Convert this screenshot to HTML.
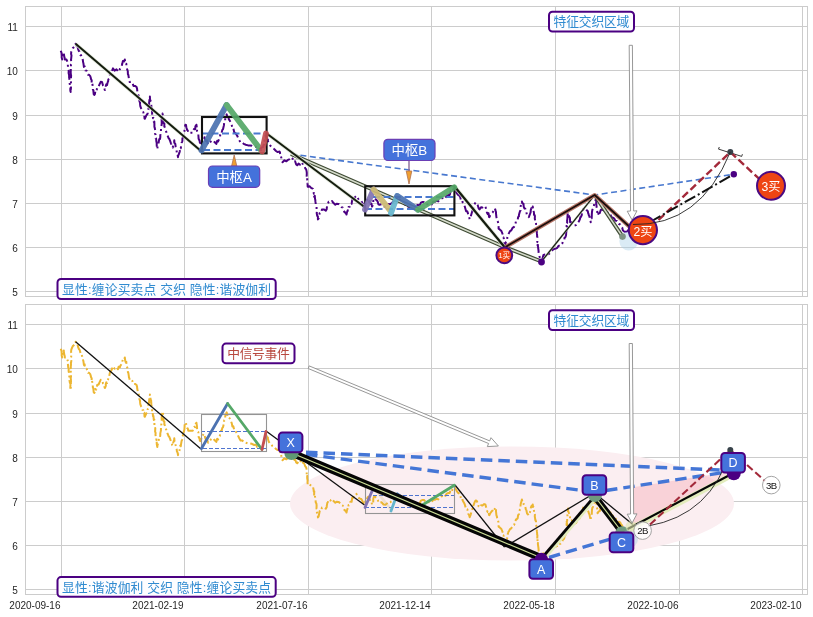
<!DOCTYPE html>
<html><head><meta charset="utf-8"><title>chart</title>
<style>
html,body{margin:0;padding:0;background:#fff;}
svg{display:block}
text{font-family:"Liberation Sans","Noto Sans CJK SC",sans-serif;}
.tk{font-size:10px;fill:#262626}
.lb{font-size:12.5px}
</style></head><body>
<svg width="813" height="617" viewBox="0 0 813 617">
<rect width="813" height="617" fill="#fff"/>

<g stroke="#cccccc" stroke-width="1" fill="none" shape-rendering="crispEdges">
<line x1="61.5" y1="6.5" x2="61.5" y2="296.5"/>
<line x1="184.5" y1="6.5" x2="184.5" y2="296.5"/>
<line x1="308.5" y1="6.5" x2="308.5" y2="296.5"/>
<line x1="431.5" y1="6.5" x2="431.5" y2="296.5"/>
<line x1="555.5" y1="6.5" x2="555.5" y2="296.5"/>
<line x1="679.5" y1="6.5" x2="679.5" y2="296.5"/>
<line x1="802.5" y1="6.5" x2="802.5" y2="296.5"/>
<line x1="25.5" y1="291.5" x2="807.5" y2="291.5"/>
<line x1="25.5" y1="247.5" x2="807.5" y2="247.5"/>
<line x1="25.5" y1="203.5" x2="807.5" y2="203.5"/>
<line x1="25.5" y1="159.5" x2="807.5" y2="159.5"/>
<line x1="25.5" y1="115.5" x2="807.5" y2="115.5"/>
<line x1="25.5" y1="70.5" x2="807.5" y2="70.5"/>
<line x1="25.5" y1="26.5" x2="807.5" y2="26.5"/>
<rect x="25.5" y="6.5" width="782" height="290.0" stroke="#cccccc"/>
</g>
<text class="tk" x="17.8" y="295.8" text-anchor="end">5</text>
<text class="tk" x="17.8" y="251.8" text-anchor="end">6</text>
<text class="tk" x="17.8" y="207.8" text-anchor="end">7</text>
<text class="tk" x="17.8" y="163.8" text-anchor="end">8</text>
<text class="tk" x="17.8" y="119.8" text-anchor="end">9</text>
<text class="tk" x="17.8" y="74.8" text-anchor="end">10</text>
<text class="tk" x="17.8" y="30.8" text-anchor="end">11</text>
<g stroke="#cccccc" stroke-width="1" fill="none" shape-rendering="crispEdges">
<line x1="61.5" y1="304.5" x2="61.5" y2="594.5"/>
<line x1="184.5" y1="304.5" x2="184.5" y2="594.5"/>
<line x1="308.5" y1="304.5" x2="308.5" y2="594.5"/>
<line x1="431.5" y1="304.5" x2="431.5" y2="594.5"/>
<line x1="555.5" y1="304.5" x2="555.5" y2="594.5"/>
<line x1="679.5" y1="304.5" x2="679.5" y2="594.5"/>
<line x1="802.5" y1="304.5" x2="802.5" y2="594.5"/>
<line x1="25.5" y1="589.5" x2="807.5" y2="589.5"/>
<line x1="25.5" y1="545.5" x2="807.5" y2="545.5"/>
<line x1="25.5" y1="501.5" x2="807.5" y2="501.5"/>
<line x1="25.5" y1="457.5" x2="807.5" y2="457.5"/>
<line x1="25.5" y1="413.5" x2="807.5" y2="413.5"/>
<line x1="25.5" y1="368.5" x2="807.5" y2="368.5"/>
<line x1="25.5" y1="324.5" x2="807.5" y2="324.5"/>
<rect x="25.5" y="304.5" width="782" height="290.0" stroke="#cccccc"/>
</g>
<text class="tk" x="17.8" y="593.8" text-anchor="end">5</text>
<text class="tk" x="17.8" y="549.8" text-anchor="end">6</text>
<text class="tk" x="17.8" y="505.8" text-anchor="end">7</text>
<text class="tk" x="17.8" y="461.8" text-anchor="end">8</text>
<text class="tk" x="17.8" y="417.8" text-anchor="end">9</text>
<text class="tk" x="17.8" y="372.8" text-anchor="end">10</text>
<text class="tk" x="17.8" y="328.8" text-anchor="end">11</text>
<text class="tk" x="60.5" y="609" text-anchor="end">2020-09-16</text>
<text class="tk" x="183.5" y="609" text-anchor="end">2021-02-19</text>
<text class="tk" x="307.5" y="609" text-anchor="end">2021-07-16</text>
<text class="tk" x="430.5" y="609" text-anchor="end">2021-12-14</text>
<text class="tk" x="554.5" y="609" text-anchor="end">2022-05-18</text>
<text class="tk" x="678.5" y="609" text-anchor="end">2022-10-06</text>
<text class="tk" x="801.5" y="609" text-anchor="end">2023-02-10</text>
<g id="top">
<polyline points="60.8,50.7 61.0,51.4 61.5,52.9 61.7,55.6 61.7,57.8 62.2,59.5 62.3,57.6 62.7,54.8 63.4,55.3 63.8,52.6 63.8,53.5 64.4,57.4 64.6,57.5 64.8,59.5 66.5,59.6 67.7,62.5 68.1,63.5 67.8,64.6 68.1,68.4 68.2,69.3 68.6,70.3 68.7,71.0 68.6,73.1 69.1,75.4 69.1,77.5 69.3,78.3 69.7,81.1 69.5,82.4 69.9,84.9 70.2,84.8 70.5,85.9 70.3,89.5 70.3,90.3 70.7,92.0 70.4,90.9 70.9,89.0 71.0,86.6 70.9,85.8 70.9,83.8 71.0,83.7 70.9,81.2 70.6,79.7 71.0,79.0 71.1,75.2 70.9,74.8 70.7,72.5 70.8,69.9 70.8,70.2 70.8,67.1 71.0,67.3 70.9,64.4 71.2,64.1 71.3,62.5 71.0,59.5 71.1,59.3 71.5,55.5 71.1,54.1 71.1,53.3 71.3,51.7 72.2,49.4 72.7,48.3 73.8,47.2 75.0,46.0 75.6,43.8 76.4,45.7 77.3,45.6 78.2,49.4 78.9,51.0 79.5,51.7 80.0,53.0 80.5,55.2 81.0,55.1 81.7,56.9 82.5,59.5 82.8,59.7 83.0,61.6 83.5,63.8 83.9,66.9 84.6,66.2 84.8,68.4 85.4,70.4 86.6,70.7 88.1,74.8 89.1,74.8 90.4,76.3 90.5,76.8 91.0,79.0 91.7,80.4 91.5,84.5 92.2,83.7 92.6,85.1 92.9,89.6 93.5,90.5 93.4,91.2 93.7,94.1 94.3,95.0 94.9,94.2 95.4,91.0 96.2,91.7 96.8,89.5 97.2,87.0 98.6,86.5 99.4,84.6 100.7,81.8 102.0,82.0 102.3,82.9 103.1,85.8 104.1,86.6 104.7,89.9 105.0,90.0 105.8,88.0 105.8,86.0 106.3,84.4 107.1,84.9 107.7,82.1 108.1,81.5 108.3,79.5 109.2,78.3 109.7,75.8 110.0,74.3 110.6,73.7 111.4,72.3 112.5,69.6 113.0,68.4 114.6,70.7 116.5,69.3 118.0,71.3 118.6,68.8 119.9,69.3 120.3,67.9 121.7,65.9 122.2,64.1 122.9,61.0 124.2,61.4 124.8,59.5 125.2,62.5 125.6,64.0 126.3,63.7 126.4,65.6 126.8,68.2 127.2,69.4 127.8,71.3 127.9,74.3 128.3,74.7 128.8,77.9 129.0,79.7 129.4,80.3 129.7,82.0 131.1,81.6 132.4,83.0 133.5,85.9 135.0,85.9 136.6,87.0 137.1,88.9 137.2,90.5 137.7,93.0 137.8,94.0 138.3,94.8 139.0,97.2 139.2,98.9 139.5,101.5 140.0,102.4 140.1,104.4 140.3,106.2 141.1,108.3 141.8,109.2 142.5,111.9 143.3,112.1 143.8,114.9 144.3,114.7 144.5,118.5 144.8,118.8 146.0,116.0 146.5,115.2 147.7,113.6 147.7,111.1 147.9,110.7 148.5,109.7 148.4,107.4 148.9,104.0 149.2,104.8 149.1,103.1 149.4,100.0 150.0,99.3 149.9,96.6 150.0,98.2 150.5,99.6 150.5,101.3 151.1,102.2 151.3,105.2 151.3,106.7 151.9,109.0 152.1,110.7 152.1,113.8 152.8,115.4 152.7,115.0 153.0,118.2 153.4,117.9 153.8,121.9 154.3,121.6 154.4,124.0 154.4,126.9 154.8,127.9 154.7,127.7 155.3,130.4 155.1,133.6 155.6,134.9 155.5,136.7 155.7,138.4 156.1,138.5 156.4,141.9 156.4,141.2 156.7,143.2 156.7,144.7 156.8,146.4 157.3,149.0 157.6,146.7 158.3,145.0 158.6,143.0 158.9,140.8 159.3,139.1 160.0,139.0 160.3,137.2 160.3,135.4 160.9,132.6 161.0,131.9 160.9,131.5 161.0,128.8 161.4,128.5 161.3,126.4 161.7,124.1 161.7,121.6 161.6,119.2 161.8,119.4 162.0,116.0 162.1,116.3 162.5,113.6 163.0,115.8 162.9,116.2 163.2,118.5 163.4,120.1 163.7,123.3 164.4,123.7 164.3,126.6 164.7,126.9 165.2,128.2 165.6,130.1 166.4,132.2 166.8,134.0 167.6,135.8 168.0,136.6 168.7,138.4 169.3,138.8 170.1,140.9 170.9,143.3 171.7,145.1 172.3,147.3 172.8,147.6 173.1,145.2 173.8,142.8 174.1,142.5 174.3,140.2 174.4,142.9 175.3,144.0 175.6,146.2 175.6,147.1 176.2,149.7 176.7,151.4 176.9,153.3 177.4,154.4 177.5,154.1 178.0,157.2 178.2,155.2 178.6,154.9 179.4,152.7 179.8,151.2 180.2,147.6 180.8,148.2 181.1,145.9 181.6,142.9 182.1,141.8 182.4,140.9 182.4,138.6 183.1,136.8 183.4,137.5 183.6,134.1 183.9,133.4 184.4,131.5 184.6,128.3 184.6,127.2 185.2,125.7 185.4,124.7 186.0,124.9 186.3,127.2 187.2,130.1 187.8,130.6 188.3,132.8 190.5,132.7 192.7,132.8 193.4,130.0 194.4,128.7 195.2,129.2 195.4,126.2 196.4,124.7 196.9,127.9 196.9,127.5 197.1,131.3 197.3,131.9 197.6,133.5 198.3,134.1 198.5,137.0 198.6,138.7 199.6,140.8 199.9,142.8 200.8,143.1 201.5,139.8 202.0,139.4 203.0,137.0 203.8,135.8 204.3,136.8 205.2,139.8 205.7,141.0 206.9,140.5 207.7,143.8 208.2,144.6 209.9,142.5 211.1,141.3 212.7,140.2 214.2,141.7 215.0,142.5 216.3,143.9 217.2,140.8 218.1,141.4 219.3,138.7 219.8,138.2 220.3,134.5 221.1,132.5 221.6,133.0 222.3,129.9 223.0,129.3 223.3,128.0 223.9,125.4 224.2,122.3 224.6,122.0 225.1,121.0 225.3,117.7 226.1,116.4 226.2,115.5 226.7,114.4 227.3,116.8 228.5,117.1 228.9,119.5 229.7,120.4 230.4,122.1 230.9,122.9 231.8,125.4 232.4,128.5 233.3,128.3 234.3,132.4 234.8,132.8 235.6,133.2 236.4,134.5 237.3,136.0 238.2,138.0 239.2,140.2 240.7,142.6 242.3,142.4 243.7,143.9 245.8,144.7 248.1,145.4 250.1,145.4 251.9,145.8 254.2,147.0 255.9,146.6 257.1,148.9 258.8,148.4 260.0,150.0 261.4,147.7 263.0,147.0 263.4,145.1 264.1,144.6 264.5,140.4 264.4,140.8 265.4,138.3 265.6,135.2 266.0,135.0 266.5,138.0 267.3,139.5 267.9,139.4 267.9,140.8 268.7,143.6 269.9,145.3 271.3,146.6 272.3,147.9 273.4,148.5 274.6,149.5 276.0,151.0 277.7,152.1 279.5,151.5 280.0,152.5 280.1,153.8 280.9,156.7 281.0,156.4 281.7,159.5 282.0,159.9 282.5,162.3 284.5,160.3 286.4,161.3 287.9,159.9 289.9,159.1 291.3,157.4 292.5,158.6 293.1,159.3 294.5,162.0 295.1,161.2 296.2,164.5 297.2,165.3 298.5,163.6 300.0,164.6 301.2,162.3 302.0,162.3 303.1,164.8 304.2,165.5 305.3,168.5 306.1,169.2 306.3,169.9 306.7,171.9 306.8,173.2 306.7,176.4 306.9,178.6 307.2,177.9 307.2,180.2 307.7,183.4 307.5,183.4 307.7,186.7 308.1,186.9 309.5,186.2 311.1,187.9 313.0,188.9 313.6,191.7 313.8,193.7 314.3,193.3 314.1,196.7 314.8,195.7 315.0,198.7 315.3,199.9 315.4,201.4 315.5,202.0 315.8,204.6 316.4,205.5 316.6,207.4 316.5,210.8 317.0,211.2 316.7,213.0 317.2,215.9 317.3,215.8 317.9,216.4 317.9,219.4 318.5,218.7 319.4,214.8 319.6,213.2 320.8,212.1 321.4,212.4 321.9,209.6 323.8,209.4 325.8,210.6 326.7,209.2 326.8,207.7 327.4,204.6 327.8,204.2 328.7,201.7 330.5,202.5 332.1,201.1 333.3,202.8 335.3,204.7 336.6,203.7 338.5,203.9 340.6,205.6 341.5,207.1 342.8,207.6 343.7,210.8 344.7,212.4 345.6,212.5 346.5,214.5 346.9,212.5 347.8,210.2 348.0,210.6 348.6,207.0 349.0,206.9 349.7,206.7 350.4,203.7 351.6,203.8 352.2,199.8 353.1,199.7 354.5,198.3 355.2,196.9 356.3,195.8 357.7,198.0 359.0,200.1 360.2,200.7 361.3,201.0 362.4,203.0 363.2,204.7 364.2,206.6 365.1,204.1 365.6,202.7 366.3,203.0 367.4,199.8 368.1,198.7 368.8,201.8 369.7,201.1 370.6,203.9 371.5,203.8 372.0,206.6 372.5,205.8 373.2,204.4 373.3,200.8 373.9,198.8 374.6,198.0 375.9,199.6 376.8,200.3 377.8,201.9 378.4,204.3 379.5,204.8 381.7,204.3 383.5,206.5 385.4,206.8 386.9,205.5 388.5,204.0 390.2,204.2 392.0,203.0 393.6,201.1 394.7,200.5 396.6,199.1 398.0,199.0 399.4,199.4 401.2,201.6 402.2,201.6 404.0,204.0 405.4,204.9 407.1,204.3 408.3,206.8 410.0,207.0 411.5,205.9 413.1,207.6 414.7,206.0 416.3,205.1 418.0,205.0 419.7,205.7 420.9,202.6 422.6,201.9 424.0,202.0 425.7,203.9 428.0,204.3 430.0,204.0 431.6,204.4 433.3,201.4 434.7,201.8 436.6,200.9 438.2,201.4 439.3,199.8 440.9,198.7 442.5,198.0 443.8,196.6 445.5,197.8 446.7,195.7 448.4,195.0 449.8,194.9 450.7,190.9 452.3,191.9 453.3,189.0 454.5,189.2 456.1,191.7 457.3,193.9 458.3,195.0 459.4,195.5 460.3,197.3 461.0,200.7 462.2,200.3 462.7,202.5 463.8,204.4 464.5,205.7 464.9,206.9 465.9,210.5 466.1,211.2 467.2,211.2 467.9,213.1 468.4,216.1 469.1,217.0 469.7,219.2 470.2,217.9 470.7,216.6 471.3,214.5 471.6,213.5 472.4,210.8 473.1,210.9 473.4,207.6 474.0,205.9 474.3,205.3 474.8,203.8 475.6,202.5 476.6,202.8 477.6,204.7 478.7,208.5 479.5,209.4 481.0,207.3 482.5,207.5 484.2,206.1 485.4,206.4 486.2,209.4 486.7,210.4 486.9,212.5 487.7,213.9 488.5,213.1 489.0,216.9 489.4,217.2 490.1,215.5 491.5,213.6 492.6,212.6 493.5,210.9 494.3,212.0 495.3,209.4 495.4,210.3 496.0,212.1 496.0,213.3 496.4,217.2 497.0,218.8 497.1,220.1 497.3,220.9 498.0,222.0 498.4,224.3 498.6,226.9 498.6,228.8 499.2,229.0 500.3,230.0 501.4,231.0 502.2,233.0 502.9,235.0 502.8,237.2 503.3,237.2 503.8,238.5 504.2,240.9 504.5,244.8 504.8,245.6 505.1,246.8 505.5,243.6 505.8,242.3 506.6,241.4 507.1,241.1 507.3,237.4 508.1,235.0 508.2,234.3 509.0,233.0 510.0,231.1 511.3,230.3 512.8,227.6 514.0,227.0 514.8,225.4 515.2,225.3 515.9,221.4 516.6,221.3 517.7,220.2 518.1,217.1 518.9,216.3 518.9,215.1 519.6,212.6 520.0,211.2 520.5,210.4 520.4,209.3 520.6,206.5 521.2,204.0 521.3,204.0 521.9,201.5 522.3,203.3 523.5,203.7 523.7,206.7 524.5,208.5 525.3,208.7 525.8,211.3 526.4,212.2 527.0,215.4 528.1,216.4 528.7,217.2 529.0,216.7 530.0,214.0 530.6,212.4 530.8,209.8 531.4,208.1 532.0,208.7 532.7,206.4 533.1,209.1 533.4,208.9 533.6,211.1 534.0,212.9 534.0,214.9 534.7,215.2 534.9,216.2 534.8,218.5 535.4,222.3 535.6,222.0 536.0,223.6 535.9,227.0 536.4,228.0 536.6,229.0 536.8,232.1 536.9,233.4 537.1,235.2 537.1,236.4 537.4,236.9 537.3,239.5 537.3,242.1 537.5,241.1 537.6,245.5 537.9,244.9 537.9,246.2 538.4,249.7 538.6,251.7 538.6,252.7 538.9,254.7 539.7,257.2 540.5,259.2 540.7,260.8 541.5,261.5 542.5,261.1 542.8,257.2 543.5,254.9 544.5,254.6 546.7,254.9 548.5,254.3 550.4,252.7 551.9,251.1 552.9,249.5 554.7,248.9 555.8,248.6 557.3,247.8 558.6,245.7 560.4,245.8 562.2,243.8 562.8,241.8 563.8,240.9 564.4,239.8 564.5,237.7 565.4,237.3 566.1,235.0 566.1,234.0 566.4,230.9 566.7,228.9 566.8,227.5 566.5,225.9 567.1,226.6 566.7,223.5 567.2,222.8 567.1,220.2 567.3,219.6 567.4,218.3 567.6,214.5 568.0,213.7 567.7,212.4 568.1,210.4 568.1,212.9 568.8,214.6 569.0,215.0 569.2,216.8 569.8,217.6 570.0,219.1 570.1,222.2 571.4,222.2 573.3,223.7 574.5,225.5 576.0,225.1 576.8,223.5 578.0,222.9 579.1,221.1 579.9,219.2 580.4,217.1 580.8,217.1 581.7,215.3 582.0,212.8 582.9,211.7 583.1,209.8 583.9,208.4 585.4,208.6 586.3,209.7 587.8,211.3 588.3,213.9 588.4,213.4 588.9,215.5 589.5,216.5 589.8,218.2 590.6,221.3 590.7,222.2 590.7,222.0 591.0,218.7 591.7,218.3 591.8,215.6 591.8,214.6 592.0,211.7 592.4,209.6 592.7,209.4 593.1,208.6 593.8,206.1 594.3,204.3 594.5,203.1 595.1,201.9 595.7,199.5 596.2,201.0 596.2,203.8 596.3,204.0 596.7,207.7 596.9,208.9 597.2,210.6 597.3,211.7 597.3,213.9 597.6,215.3 598.4,213.6 599.8,213.0 600.7,210.1 601.6,209.4 603.0,210.0 604.6,210.6 606.1,212.9 607.5,212.3 608.7,214.0 610.4,214.5 611.6,217.5 612.7,217.5 614.3,218.6 615.3,220.6 616.9,221.0 617.6,222.4 619.0,224.0 620.2,224.5 621.1,226.4 622.2,227.5 622.8,230.2 623.5,230.9 624.6,231.8 626.0,231.7 627.3,231.4 629.0,229.0" fill="none" stroke="#4b0082" stroke-width="2" stroke-dasharray="10 3.2 2 3.2" stroke-linejoin="round"/>
<polyline points="291,154 594.7,195 733.8,174.3" fill="none" stroke="#4878cf" stroke-width="1.6" stroke-dasharray="6 3.5"/>
<polyline points="291,154 504.5,247 541.5,261.5" fill="none" stroke="#3f4b34" stroke-width="4"/>
<polyline points="291,154 504.5,247 541.5,261.5" fill="none" stroke="#d6dccc" stroke-width="1.5"/>
<polyline points="594.7,195 622.5,236.6" fill="none" stroke="#3f4b34" stroke-width="4"/>
<polyline points="594.7,195 622.5,236.6" fill="none" stroke="#d6dccc" stroke-width="1.5"/>
<polyline points="75.6,43.8 201,151" fill="none" stroke="#dfe6d6" stroke-width="3.6" opacity="0.8"/>
<polyline points="75.6,43.8 201,151" fill="none" stroke="#141c0e" stroke-width="2.0"/>
<polyline points="266,133 364.5,207" fill="none" stroke="#dfe6d6" stroke-width="3.6" opacity="0.8"/>
<polyline points="266,133 364.5,207" fill="none" stroke="#141c0e" stroke-width="2.0"/>
<polyline points="455,187 504.5,247" fill="none" stroke="#dfe6d6" stroke-width="3.8000000000000003" opacity="0.8"/>
<polyline points="455,187 504.5,247" fill="none" stroke="#141c0e" stroke-width="2.2"/>
<line x1="541.5" y1="261.5" x2="594.7" y2="195" stroke="#9fb090" stroke-width="2"/>
<line x1="541.5" y1="261.5" x2="594.7" y2="195" stroke="#111" stroke-width="1.1"/>
<polyline points="505.5,247 594.7,195 632,229" fill="none" stroke="#b67668" stroke-width="4.1" stroke-linejoin="round"/>
<polyline points="505.5,247 594.7,195 632,229" fill="none" stroke="#1a0e0c" stroke-width="1.8" stroke-linejoin="round"/>
<line x1="201" y1="133.5" x2="262" y2="133.5" stroke="#4878cf" stroke-width="1.8" stroke-dasharray="7 3.5"/>
<line x1="203" y1="150" x2="262" y2="150" stroke="#4878cf" stroke-width="1.8" stroke-dasharray="7 3.5"/>
<rect x="202" y="117" width="64.6" height="36.4" fill="none" stroke="#111" stroke-width="2.1"/>
<g fill="none" stroke-width="5.8" stroke-linecap="round" opacity="0.92">
<line x1="201.5" y1="150.5" x2="226.6" y2="105" stroke="#4c72b0"/>
<line x1="226.6" y1="105" x2="262" y2="151.5" stroke="#55a868"/>
<line x1="262" y1="151.5" x2="266" y2="133.5" stroke="#c44e52"/>
</g>
<line x1="373" y1="197" x2="455" y2="197" stroke="#4878cf" stroke-width="1.8" stroke-dasharray="7 3.5"/>
<line x1="365" y1="209" x2="455" y2="209" stroke="#4878cf" stroke-width="1.8" stroke-dasharray="7 3.5"/>
<rect x="365.2" y="186.2" width="89.2" height="29.2" fill="none" stroke="#111" stroke-width="2.1"/>
<g fill="none" stroke-width="5.8" stroke-linecap="round" opacity="0.92">
<line x1="365" y1="209.5" x2="373.6" y2="189.5" stroke="#8172b2"/>
<line x1="373.6" y1="189.5" x2="390.5" y2="211" stroke="#ccb974"/>
<line x1="391" y1="213" x2="397.2" y2="196" stroke="#64b5cd"/>
<line x1="397.2" y1="196" x2="418" y2="209.7" stroke="#4c72b0"/>
<line x1="418" y1="209.7" x2="454.3" y2="187.3" stroke="#55a868"/>
</g>
<path d="M231.6,166 L234.2,155 L236.8,166 Z" fill="#f0a030" stroke="#b07050" stroke-width="0.8"/>
<rect x="208.5" y="166" width="51.2" height="21.3" rx="4" fill="#4472db" stroke="#6a3fb5" stroke-width="1.2"/>
<text x="234.1" y="181.5" font-size="13.4" fill="#fff" text-anchor="middle">中枢A</text>
<line x1="409" y1="160.5" x2="409" y2="172" stroke="#8a6a9a" stroke-width="1.4"/>
<path d="M406.2,171 L409,184 L411.8,171 Z" fill="#f0a030" stroke="#b07050" stroke-width="0.8"/>
<rect x="383.9" y="139.3" width="51.1" height="21.2" rx="4" fill="#4472db" stroke="#6a3fb5" stroke-width="1.2"/>
<text x="409.4" y="154.7" font-size="13.4" fill="#fff" text-anchor="middle">中枢B</text>
<rect x="57.5" y="279.0" width="218.2" height="20.0" rx="3.5" fill="#fdfdff" stroke="#4b0082" stroke-width="2"/>
<text x="166.6" y="293.7" font-size="12.8" fill="#2f8ad0" text-anchor="middle" textLength="209" lengthAdjust="spacing">显性:缠论买卖点 交织 隐性:谐波伽利</text>
<rect x="549" y="11.8" width="85" height="19.8" rx="3.5" fill="#fdfdff" stroke="#4b0082" stroke-width="2"/>
<text x="591.5" y="26.4" font-size="12.8" fill="#2f8ad0" text-anchor="middle" textLength="75.8" lengthAdjust="spacing">特征交织区域</text>
<path d="M629.1999999999999,45.3 L632.4,45.3 L633.6499999999999,211 L636.9999999999999,210.8 L632.0999999999999,220 L627.1999999999999,211.2 L630.55,211 Z" fill="#fff" stroke="#8c8c8c" stroke-width="0.9" stroke-linejoin="round"/>
<circle cx="628.7" cy="241" r="9.4" fill="#a8cfe8" opacity="0.42"/>
<circle cx="622.5" cy="236.6" r="3.3" fill="#7f9383"/>
<path d="M719.3,147 L718.5,149.1 L741.7,156.4 L742.4,154.2" fill="none" stroke="#222" stroke-width="0.9"/>
<polyline points="658.5,220 730.3,152.1 759,178.7" fill="none" stroke="#a3293a" stroke-width="2.4" stroke-dasharray="7.5 3.5"/>
<line x1="650" y1="222" x2="733.8" y2="174.3" stroke="#111" stroke-width="2" stroke-dasharray="12 3 2 3"/>
<circle cx="733.8" cy="174.3" r="3.2" fill="#4b0082"/>
<circle cx="730.3" cy="152.1" r="3" fill="#37424a"/>
<circle cx="541.5" cy="262" r="3.4" fill="#4b0082"/>
<circle cx="504.3" cy="255.3" r="7.9" fill="#ee4513" stroke="#4b0a82" stroke-width="2"/>
<text x="504.3" y="258.0" font-size="7.5" fill="#fff" text-anchor="middle">1买</text>
<circle cx="642.9" cy="230.1" r="14.1" fill="#ee4513" stroke="#4b0a82" stroke-width="2"/>
<text x="642.9" y="236.3" font-size="12.2" fill="#fff" text-anchor="middle">2买</text>
<circle cx="771" cy="185.8" r="14.0" fill="#ee4513" stroke="#4b0a82" stroke-width="2"/>
<text x="771" y="190.5" font-size="12.2" fill="#fff" text-anchor="middle">3买</text>
<path d="M633,224.5 Q700,226 730.3,152" fill="none" stroke="#222" stroke-width="0.9"/>
</g>
<g id="bot">
<ellipse cx="512" cy="503.5" rx="222" ry="57" fill="#fbeef1" opacity="1"/>
<polygon points="633,487.3 733.8,471 633,527" fill="#f7a0ac" opacity="0.36"/>
<polyline points="60.8,348.7 61.0,349.4 61.5,350.9 61.7,353.6 61.7,355.8 62.2,357.5 62.3,355.6 62.7,352.8 63.4,353.3 63.8,350.6 63.8,351.5 64.4,355.4 64.6,355.5 64.8,357.5 66.5,357.6 67.7,360.5 68.1,361.5 67.8,362.6 68.1,366.4 68.2,367.3 68.6,368.3 68.7,369.0 68.6,371.1 69.1,373.4 69.1,375.5 69.3,376.3 69.7,379.1 69.5,380.4 69.9,382.9 70.2,382.8 70.5,383.9 70.3,387.5 70.3,388.3 70.7,390.0 70.4,388.9 70.9,387.0 71.0,384.6 70.9,383.8 70.9,381.8 71.0,381.7 70.9,379.2 70.6,377.7 71.0,377.0 71.1,373.2 70.9,372.8 70.7,370.5 70.8,367.9 70.8,368.2 70.8,365.1 71.0,365.3 70.9,362.4 71.2,362.1 71.3,360.5 71.0,357.5 71.1,357.3 71.5,353.5 71.1,352.1 71.1,351.3 71.3,349.7 72.2,347.4 72.7,346.3 73.8,345.2 75.0,344.0 75.6,341.8 76.4,343.7 77.3,343.6 78.2,347.4 78.9,349.0 79.5,349.7 80.0,351.0 80.5,353.2 81.0,353.1 81.7,354.9 82.5,357.5 82.8,357.7 83.0,359.6 83.5,361.8 83.9,364.9 84.6,364.2 84.8,366.4 85.4,368.4 86.6,368.7 88.1,372.8 89.1,372.8 90.4,374.3 90.5,374.8 91.0,377.0 91.7,378.4 91.5,382.5 92.2,381.7 92.6,383.1 92.9,387.6 93.5,388.5 93.4,389.2 93.7,392.1 94.3,393.0 94.9,392.2 95.4,389.0 96.2,389.7 96.8,387.5 97.2,385.0 98.6,384.5 99.4,382.6 100.7,379.8 102.0,380.0 102.3,380.9 103.1,383.8 104.1,384.6 104.7,387.9 105.0,388.0 105.8,386.0 105.8,384.0 106.3,382.4 107.1,382.9 107.7,380.1 108.1,379.5 108.3,377.5 109.2,376.3 109.7,373.8 110.0,372.3 110.6,371.7 111.4,370.3 112.5,367.6 113.0,366.4 114.6,368.7 116.5,367.3 118.0,369.3 118.6,366.8 119.9,367.3 120.3,365.9 121.7,363.9 122.2,362.1 122.9,359.0 124.2,359.4 124.8,357.5 125.2,360.5 125.6,362.0 126.3,361.7 126.4,363.6 126.8,366.2 127.2,367.4 127.8,369.3 127.9,372.3 128.3,372.7 128.8,375.9 129.0,377.7 129.4,378.3 129.7,380.0 131.1,379.6 132.4,381.0 133.5,383.9 135.0,383.9 136.6,385.0 137.1,386.9 137.2,388.5 137.7,391.0 137.8,392.0 138.3,392.8 139.0,395.2 139.2,396.9 139.5,399.5 140.0,400.4 140.1,402.4 140.3,404.2 141.1,406.3 141.8,407.2 142.5,409.9 143.3,410.1 143.8,412.9 144.3,412.7 144.5,416.5 144.8,416.8 146.0,414.0 146.5,413.2 147.7,411.6 147.7,409.1 147.9,408.7 148.5,407.7 148.4,405.4 148.9,402.0 149.2,402.8 149.1,401.1 149.4,398.0 150.0,397.3 149.9,394.6 150.0,396.2 150.5,397.6 150.5,399.3 151.1,400.2 151.3,403.2 151.3,404.7 151.9,407.0 152.1,408.7 152.1,411.8 152.8,413.4 152.7,413.0 153.0,416.2 153.4,415.9 153.8,419.9 154.3,419.6 154.4,422.0 154.4,424.9 154.8,425.9 154.7,425.7 155.3,428.4 155.1,431.6 155.6,432.9 155.5,434.7 155.7,436.4 156.1,436.5 156.4,439.9 156.4,439.2 156.7,441.2 156.7,442.7 156.8,444.4 157.3,447.0 157.6,444.7 158.3,443.0 158.6,441.0 158.9,438.8 159.3,437.1 160.0,437.0 160.3,435.2 160.3,433.4 160.9,430.6 161.0,429.9 160.9,429.5 161.0,426.8 161.4,426.5 161.3,424.4 161.7,422.1 161.7,419.6 161.6,417.2 161.8,417.4 162.0,414.0 162.1,414.3 162.5,411.6 163.0,413.8 162.9,414.2 163.2,416.5 163.4,418.1 163.7,421.3 164.4,421.7 164.3,424.6 164.7,424.9 165.2,426.2 165.6,428.1 166.4,430.2 166.8,432.0 167.6,433.8 168.0,434.6 168.7,436.4 169.3,436.8 170.1,438.9 170.9,441.3 171.7,443.1 172.3,445.3 172.8,445.6 173.1,443.2 173.8,440.8 174.1,440.5 174.3,438.2 174.4,440.9 175.3,442.0 175.6,444.2 175.6,445.1 176.2,447.7 176.7,449.4 176.9,451.3 177.4,452.4 177.5,452.1 178.0,455.2 178.2,453.2 178.6,452.9 179.4,450.7 179.8,449.2 180.2,445.6 180.8,446.2 181.1,443.9 181.6,440.9 182.1,439.8 182.4,438.9 182.4,436.6 183.1,434.8 183.4,435.5 183.6,432.1 183.9,431.4 184.4,429.5 184.6,426.3 184.6,425.2 185.2,423.7 185.4,422.7 186.0,422.9 186.3,425.2 187.2,428.1 187.8,428.6 188.3,430.8 190.5,430.7 192.7,430.8 193.4,428.0 194.4,426.7 195.2,427.2 195.4,424.2 196.4,422.7 196.9,425.9 196.9,425.5 197.1,429.3 197.3,429.9 197.6,431.5 198.3,432.1 198.5,435.0 198.6,436.7 199.6,438.8 199.9,440.8 200.8,441.1 201.5,437.8 202.0,437.4 203.0,435.0 203.8,433.8 204.3,434.8 205.2,437.8 205.7,439.0 206.9,438.5 207.7,441.8 208.2,442.6 209.9,440.5 211.1,439.3 212.7,438.2 214.2,439.7 215.0,440.5 216.3,441.9 217.2,438.8 218.1,439.4 219.3,436.7 219.8,436.2 220.3,432.5 221.1,430.5 221.6,431.0 222.3,427.9 223.0,427.3 223.3,426.0 223.9,423.4 224.2,420.3 224.6,420.0 225.1,419.0 225.3,415.7 226.1,414.4 226.2,413.5 226.7,412.4 227.3,414.8 228.5,415.1 228.9,417.5 229.7,418.4 230.4,420.1 230.9,420.9 231.8,423.4 232.4,426.5 233.3,426.3 234.3,430.4 234.8,430.8 235.6,431.2 236.4,432.5 237.3,434.0 238.2,436.0 239.2,438.2 240.7,440.6 242.3,440.4 243.7,441.9 245.8,442.7 248.1,443.4 250.1,443.4 251.9,443.8 254.2,445.0 255.9,444.6 257.1,446.9 258.8,446.4 260.0,448.0 261.4,445.7 263.0,445.0 263.4,443.1 264.1,442.6 264.5,438.4 264.4,438.8 265.4,436.3 265.6,433.2 266.0,433.0 266.5,436.0 267.3,437.5 267.9,437.4 267.9,438.8 268.7,441.6 269.9,443.3 271.3,444.6 272.3,445.9 273.4,446.5 274.6,447.5 276.0,449.0 277.7,450.1 279.5,449.5 280.0,450.5 280.1,451.8 280.9,454.7 281.0,454.4 281.7,457.5 282.0,457.9 282.5,460.3 284.5,458.3 286.4,459.3 287.9,457.9 289.9,457.1 291.3,455.4 292.5,456.6 293.1,457.3 294.5,460.0 295.1,459.2 296.2,462.5 297.2,463.3 298.5,461.6 300.0,462.6 301.2,460.3 302.0,460.3 303.1,462.8 304.2,463.5 305.3,466.5 306.1,467.2 306.3,467.9 306.7,469.9 306.8,471.2 306.7,474.4 306.9,476.6 307.2,475.9 307.2,478.2 307.7,481.4 307.5,481.4 307.7,484.7 308.1,484.9 309.5,484.2 311.1,485.9 313.0,486.9 313.6,489.7 313.8,491.7 314.3,491.3 314.1,494.7 314.8,493.7 315.0,496.7 315.3,497.9 315.4,499.4 315.5,500.0 315.8,502.6 316.4,503.5 316.6,505.4 316.5,508.8 317.0,509.2 316.7,511.0 317.2,513.9 317.3,513.8 317.9,514.4 317.9,517.4 318.5,516.7 319.4,512.8 319.6,511.2 320.8,510.1 321.4,510.4 321.9,507.6 323.8,507.4 325.8,508.6 326.7,507.2 326.8,505.7 327.4,502.6 327.8,502.2 328.7,499.7 330.5,500.5 332.1,499.1 333.3,500.8 335.3,502.7 336.6,501.7 338.5,501.9 340.6,503.6 341.5,505.1 342.8,505.6 343.7,508.8 344.7,510.4 345.6,510.5 346.5,512.5 346.9,510.5 347.8,508.2 348.0,508.6 348.6,505.0 349.0,504.9 349.7,504.7 350.4,501.7 351.6,501.8 352.2,497.8 353.1,497.7 354.5,496.3 355.2,494.9 356.3,493.8 357.7,496.0 359.0,498.1 360.2,498.7 361.3,499.0 362.4,501.0 363.2,502.7 364.2,504.6 365.1,502.1 365.6,500.7 366.3,501.0 367.4,497.8 368.1,496.7 368.8,499.8 369.7,499.1 370.6,501.9 371.5,501.8 372.0,504.6 372.5,503.8 373.2,502.4 373.3,498.8 373.9,496.8 374.6,496.0 375.9,497.6 376.8,498.3 377.8,499.9 378.4,502.3 379.5,502.8 381.7,502.3 383.5,504.5 385.4,504.8 386.9,503.5 388.5,502.0 390.2,502.2 392.0,501.0 393.6,499.1 394.7,498.5 396.6,497.1 398.0,497.0 399.4,497.4 401.2,499.6 402.2,499.6 404.0,502.0 405.4,502.9 407.1,502.3 408.3,504.8 410.0,505.0 411.5,503.9 413.1,505.6 414.7,504.0 416.3,503.1 418.0,503.0 419.7,503.7 420.9,500.6 422.6,499.9 424.0,500.0 425.7,501.9 428.0,502.3 430.0,502.0 431.6,502.4 433.3,499.4 434.7,499.8 436.6,498.9 438.2,499.4 439.3,497.8 440.9,496.7 442.5,496.0 443.8,494.6 445.5,495.8 446.7,493.7 448.4,493.0 449.8,492.9 450.7,488.9 452.3,489.9 453.3,487.0 454.5,487.2 456.1,489.7 457.3,491.9 458.3,493.0 459.4,493.5 460.3,495.3 461.0,498.7 462.2,498.3 462.7,500.5 463.8,502.4 464.5,503.7 464.9,504.9 465.9,508.5 466.1,509.2 467.2,509.2 467.9,511.1 468.4,514.1 469.1,515.0 469.7,517.2 470.2,515.9 470.7,514.6 471.3,512.5 471.6,511.5 472.4,508.8 473.1,508.9 473.4,505.6 474.0,503.9 474.3,503.3 474.8,501.8 475.6,500.5 476.6,500.8 477.6,502.7 478.7,506.5 479.5,507.4 481.0,505.3 482.5,505.5 484.2,504.1 485.4,504.4 486.2,507.4 486.7,508.4 486.9,510.5 487.7,511.9 488.5,511.1 489.0,514.9 489.4,515.2 490.1,513.5 491.5,511.6 492.6,510.6 493.5,508.9 494.3,510.0 495.3,507.4 495.4,508.3 496.0,510.1 496.0,511.3 496.4,515.2 497.0,516.8 497.1,518.1 497.3,518.9 498.0,520.0 498.4,522.3 498.6,524.9 498.6,526.8 499.2,527.0 500.3,528.0 501.4,529.0 502.2,531.0 502.9,533.0 502.8,535.2 503.3,535.2 503.8,536.5 504.2,538.9 504.5,542.8 504.8,543.6 505.1,544.8 505.5,541.6 505.8,540.3 506.6,539.4 507.1,539.1 507.3,535.4 508.1,533.0 508.2,532.3 509.0,531.0 510.0,529.1 511.3,528.3 512.8,525.6 514.0,525.0 514.8,523.4 515.2,523.3 515.9,519.4 516.6,519.3 517.7,518.2 518.1,515.1 518.9,514.3 518.9,513.1 519.6,510.6 520.0,509.2 520.5,508.4 520.4,507.3 520.6,504.5 521.2,502.0 521.3,502.0 521.9,499.5 522.3,501.3 523.5,501.7 523.7,504.7 524.5,506.5 525.3,506.7 525.8,509.3 526.4,510.2 527.0,513.4 528.1,514.4 528.7,515.2 529.0,514.7 530.0,512.0 530.6,510.4 530.8,507.8 531.4,506.1 532.0,506.7 532.7,504.4 533.1,507.1 533.4,506.9 533.6,509.1 534.0,510.9 534.0,512.9 534.7,513.2 534.9,514.2 534.8,516.5 535.4,520.3 535.6,520.0 536.0,521.6 535.9,525.0 536.4,526.0 536.6,527.0 536.8,530.1 536.9,531.4 537.1,533.2 537.1,534.4 537.4,534.9 537.3,537.5 537.3,540.1 537.5,539.1 537.6,543.5 537.9,542.9 537.9,544.2 538.4,547.7 538.6,549.7 538.6,550.7 538.9,552.7 539.7,555.2 540.5,557.2 540.7,558.8 541.5,559.5 542.5,559.1 542.8,555.2 543.5,552.9 544.5,552.6 546.7,552.9 548.5,552.3 550.4,550.7 551.9,549.1 552.9,547.5 554.7,546.9 555.8,546.6 557.3,545.8 558.6,543.7 560.4,543.8 562.2,541.8 562.8,539.8 563.8,538.9 564.4,537.8 564.5,535.7 565.4,535.3 566.1,533.0 566.1,532.0 566.4,528.9 566.7,526.9 566.8,525.5 566.5,523.9 567.1,524.6 566.7,521.5 567.2,520.8 567.1,518.2 567.3,517.6 567.4,516.3 567.6,512.5 568.0,511.7 567.7,510.4 568.1,508.4 568.1,510.9 568.8,512.6 569.0,513.0 569.2,514.8 569.8,515.6 570.0,517.1 570.1,520.2 571.4,520.2 573.3,521.7 574.5,523.5 576.0,523.1 576.8,521.5 578.0,520.9 579.1,519.1 579.9,517.2 580.4,515.1 580.8,515.1 581.7,513.3 582.0,510.8 582.9,509.7 583.1,507.8 583.9,506.4 585.4,506.6 586.3,507.7 587.8,509.3 588.3,511.9 588.4,511.4 588.9,513.5 589.5,514.5 589.8,516.2 590.6,519.3 590.7,520.2 590.7,520.0 591.0,516.7 591.7,516.3 591.8,513.6 591.8,512.6 592.0,509.7 592.4,507.6 592.7,507.4 593.1,506.6 593.8,504.1 594.3,502.3 594.5,501.1 595.1,499.9 595.7,497.5 596.2,499.0 596.2,501.8 596.3,502.0 596.7,505.7 596.9,506.9 597.2,508.6 597.3,509.7 597.3,511.9 597.6,513.3 598.4,511.6 599.8,511.0 600.7,508.1 601.6,507.4 603.0,508.0 604.6,508.6 606.1,510.9 607.5,510.3 608.7,512.0 610.4,512.5 611.6,515.5 612.7,515.5 614.3,516.6 615.3,518.6 616.9,519.0 617.6,520.4 619.0,522.0 620.2,522.5 621.1,524.4 622.2,525.5 622.8,528.2 623.5,528.9 624.6,529.8 626.0,529.7 627.3,529.4 629.0,527.0" fill="none" stroke="#ecb632" stroke-width="2" stroke-dasharray="9 2.8 1.8 2.8" stroke-linejoin="round"/>
<g fill="none" stroke="#111" stroke-width="1.3">
<line x1="75.6" y1="341.8" x2="201" y2="449"/>
<line x1="266" y1="431" x2="281" y2="442"/>
<line x1="297" y1="455.5" x2="364.5" y2="505"/>
<line x1="455" y1="485" x2="504.5" y2="547"/>
<line x1="504.5" y1="547" x2="594.7" y2="493"/>
<line x1="594.7" y1="493" x2="637" y2="528"/>
</g>
<line x1="201" y1="431.5" x2="266" y2="431.5" stroke="#4f74cf" stroke-width="1.1" stroke-dasharray="4 2"/>
<line x1="203" y1="448.5" x2="266" y2="448.5" stroke="#4f74cf" stroke-width="1.1" stroke-dasharray="4 2"/>
<rect x="201.5" y="414.5" width="65" height="37" fill="none" stroke="#949494" stroke-width="1.1"/>
<g fill="none" stroke-width="2.8" stroke-linecap="round">
<line x1="201.5" y1="448.5" x2="227.6" y2="403.5" stroke="#4c72b0"/>
<line x1="227.6" y1="403.5" x2="262" y2="449.5" stroke="#55a868"/>
<line x1="262" y1="449.5" x2="266" y2="431.5" stroke="#c44e52"/>
</g>
<line x1="373" y1="495.5" x2="455" y2="495.5" stroke="#4f74cf" stroke-width="1.1" stroke-dasharray="4 2"/>
<line x1="365" y1="507.5" x2="455" y2="507.5" stroke="#4f74cf" stroke-width="1.1" stroke-dasharray="4 2"/>
<rect x="365.5" y="484.5" width="89" height="29" fill="none" stroke="#949494" stroke-width="1.1"/>
<g fill="none" stroke-width="2.8" stroke-linecap="round">
<line x1="365" y1="507.5" x2="373.6" y2="487.5" stroke="#8172b2"/>
<line x1="373.6" y1="487.5" x2="390.5" y2="509" stroke="#ccb974" opacity="0.25"/>
<line x1="391" y1="511" x2="397.2" y2="494" stroke="#64b5cd"/>
<line x1="397.2" y1="494" x2="418" y2="507.7" stroke="#4c72b0"/>
<line x1="418" y1="507.7" x2="454.3" y2="485.3" stroke="#55a868"/>
</g>
<g fill="none" stroke="#4476d6" stroke-width="3.4" stroke-dasharray="11.5 6">
<line x1="306" y1="454.3" x2="594" y2="492"/>
<line x1="306" y1="452.3" x2="733" y2="470.5"/>
<line x1="549" y1="557.5" x2="621" y2="536"/>
<line x1="606" y1="490.5" x2="733" y2="471"/>
</g>
<polyline points="293,453.5 541.5,558" fill="none" stroke="#050505" stroke-width="7.4" stroke-linejoin="round"/>
<polyline points="293,453.5 541.5,558" fill="none" stroke="#cfe09a" stroke-width="1.15" stroke-linejoin="round"/>
<line x1="543.6" y1="558.6" x2="596.4" y2="496.8" stroke="#e3ecbc" stroke-width="4.2"/>
<line x1="542.3" y1="557.5" x2="595.1" y2="495.7" stroke="#050505" stroke-width="2.8"/>
<polyline points="594.5,496 622,532" fill="none" stroke="#050505" stroke-width="6.5" stroke-linejoin="round"/>
<polyline points="594.5,496 622,532" fill="none" stroke="#cfe09a" stroke-width="1.15" stroke-linejoin="round"/>
<line x1="622" y1="533.2" x2="733.5" y2="474.2" stroke="#e3ecbc" stroke-width="5.6"/>
<line x1="622" y1="532" x2="733.5" y2="473" stroke="#050505" stroke-width="2.1"/>
<circle cx="291.5" cy="452.8" r="7.2" fill="#5f9873"/>
<circle cx="541.4" cy="559.3" r="6.6" fill="#4b0082"/>
<circle cx="595" cy="495" r="7" fill="#6f9a7e"/>
<circle cx="622.3" cy="533.3" r="7" fill="#6f9a7e"/>
<circle cx="629" cy="539" r="9" fill="#a8cfe8" opacity="0.45"/>
<circle cx="631" cy="526.5" r="5.5" fill="#dfe6b0" opacity="0.6"/>
<circle cx="733.8" cy="473.2" r="7" fill="#4b0082"/>
<path d="M648,526 Q712,515 730.3,450" fill="none" stroke="#222" stroke-width="0.9"/>
<polyline points="650,524.5 730.3,450 765,481" fill="none" stroke="#a3293a" stroke-width="2.1" stroke-dasharray="7.5 3.5"/>
<circle cx="730.3" cy="450" r="3" fill="#37424a"/>
<circle cx="642.6" cy="530.6" r="8.8" fill="#fff" fill-opacity="0.75" stroke="#9a9a9a" stroke-width="0.9"/>
<text x="642.6" y="534.2" font-size="9.6" fill="#111" text-anchor="middle" letter-spacing="-0.6">2B</text>
<circle cx="771.3" cy="485.1" r="8.8" fill="#fff" fill-opacity="0.75" stroke="#9a9a9a" stroke-width="0.9"/>
<text x="771.3" y="488.70000000000005" font-size="9.6" fill="#111" text-anchor="middle" letter-spacing="-0.6">3B</text>
<path d="M629.1999999999999,343.5 L632.4,343.5 L633.6499999999999,514 L636.9999999999999,513.8 L632.0999999999999,523 L627.1999999999999,514.2 L630.55,514 Z" fill="#fff" stroke="#8c8c8c" stroke-width="0.9" stroke-linejoin="round"/>
<path d="M308.2,368.5 L488.6,443.5 L487.3,446.6 L498.4,446.0 L491.0,437.7 L489.7,440.9 L309.2,365.9 Z" fill="#fff" stroke="#8c8c8c" stroke-width="0.9"/>
<rect x="278.8" y="432.59999999999997" width="23.6" height="19.6" rx="3.5" fill="#4472db" stroke="#4b0082" stroke-width="2"/>
<text x="290.6" y="447.0" font-size="12.5" fill="#fff" text-anchor="middle">X</text>
<rect x="529.4000000000001" y="559.2" width="23.6" height="19.6" rx="3.5" fill="#4472db" stroke="#4b0082" stroke-width="2"/>
<text x="541.2" y="573.6" font-size="12.5" fill="#fff" text-anchor="middle">A</text>
<rect x="582.6" y="475.2" width="23.6" height="19.6" rx="3.5" fill="#4472db" stroke="#4b0082" stroke-width="2"/>
<text x="594.4" y="489.6" font-size="12.5" fill="#fff" text-anchor="middle">B</text>
<rect x="609.7" y="532.6" width="23.6" height="19.6" rx="3.5" fill="#4472db" stroke="#4b0082" stroke-width="2"/>
<text x="621.5" y="547.0" font-size="12.5" fill="#fff" text-anchor="middle">C</text>
<rect x="721.3000000000001" y="453.0" width="23.6" height="19.6" rx="3.5" fill="#4472db" stroke="#4b0082" stroke-width="2"/>
<text x="733.1" y="467.40000000000003" font-size="12.5" fill="#fff" text-anchor="middle">D</text>
<rect x="222.5" y="343.6" width="72" height="19.6" rx="3.5" fill="#fdfdff" stroke="#4b0082" stroke-width="2"/>
<text x="258.5" y="358.1" font-size="12.8" fill="#b8473f" text-anchor="middle" textLength="62.4" lengthAdjust="spacing">中信号事件</text>
<rect x="549" y="310.3" width="85" height="19.8" rx="3.5" fill="#fdfdff" stroke="#4b0082" stroke-width="2"/>
<text x="591.5" y="324.9" font-size="12.8" fill="#2f8ad0" text-anchor="middle" textLength="75.8" lengthAdjust="spacing">特征交织区域</text>
<rect x="57.5" y="577.1" width="218.2" height="19.6" rx="3.5" fill="#fdfdff" stroke="#4b0082" stroke-width="2"/>
<text x="166.6" y="591.6" font-size="12.8" fill="#2f8ad0" text-anchor="middle" textLength="209" lengthAdjust="spacing">显性:谐波伽利 交织 隐性:缠论买卖点</text>
</g>
</svg></body></html>
